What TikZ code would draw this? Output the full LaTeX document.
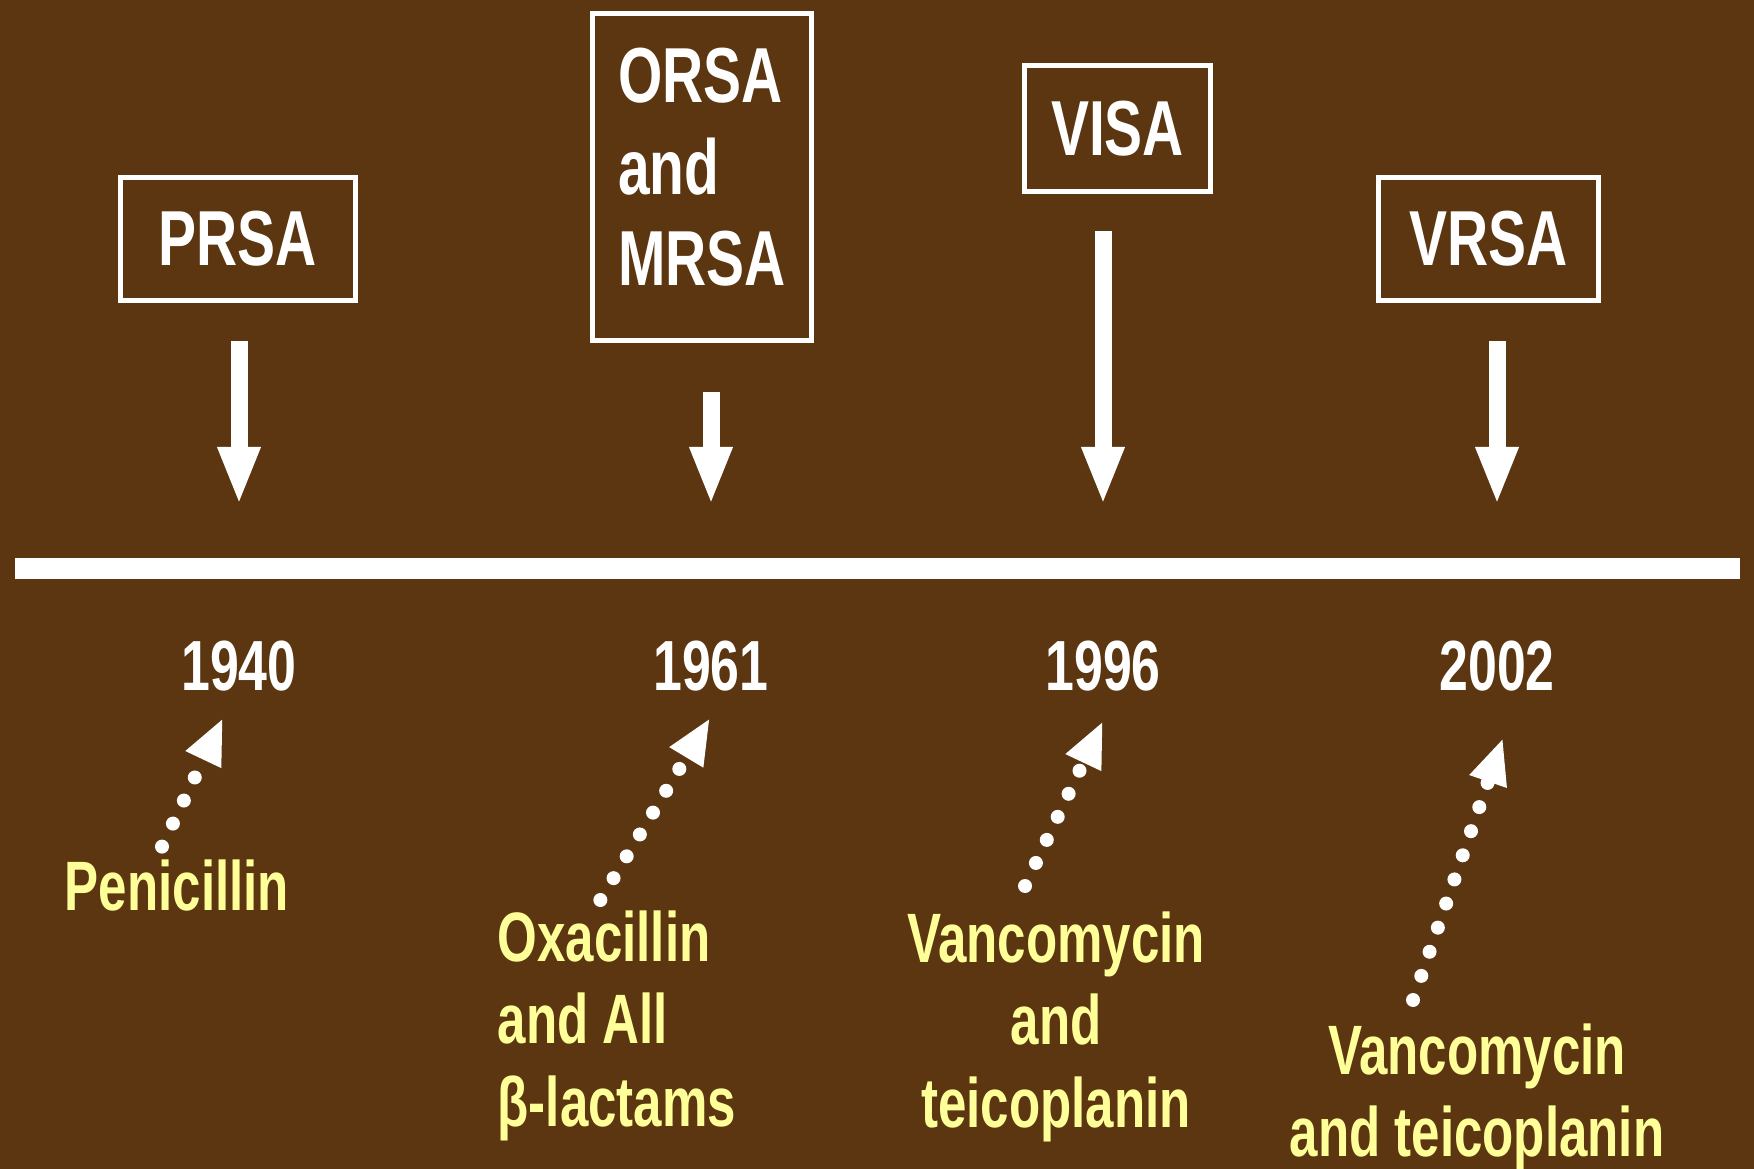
\documentclass[tikz,border=0pt]{standalone}
\usepackage{fontspec}
\newfontfamily\narrowsans{Liberation Sans}[FakeStretch=0.73]
\usetikzlibrary{arrows.meta}
\definecolor{bgbrown}{RGB}{92,54,16}
\definecolor{labelyellow}{RGB}{255,255,153}
\tikzset{
  resbox/.style={draw=white, line width=0.5mm, inner sep=0pt, text=white, align=left,
    font=\narrowsans\bfseries\fontsize{22.2}{26.1}\selectfont},
  yeartext/.style={inner sep=0pt, text=white, font=\narrowsans\bfseries\fontsize{20.2}{24}\selectfont},
  drugtext/.style={inner sep=0pt, text=labelyellow, font=\narrowsans\bfseries\fontsize{19.9}{23.5}\selectfont},
  downarrow/.style={white, line width=1.7mm, -{Triangle[length=5.8mm,width=3.9mm]}},
  dotarrow/.style={white, line width=1.4mm, line cap=round, dash pattern=on 0pt off 2.55mm,
    -{Triangle[length=4.6mm,width=3.6mm]}}
}
\begin{document}
\begin{tikzpicture}[x=0.1mm,y=-0.1mm]
    \useasboundingbox (0,0) rectangle (1754,1169);
    \fill[bgbrown] (0,0) rectangle (1754,1169);
    \fill[white] (15,558) rectangle (1740,579);
    \node[resbox, minimum width=23.5mm, minimum height=12.3mm] (prsa) at (238,239) {PRSA};
    \node[resbox, minimum width=21.9mm, minimum height=32.7mm] (orsa) at (702,177) {ORSA\\and\\MRSA\rule[-2mm]{0pt}{2mm}};
    \node[resbox, minimum width=18.6mm, minimum height=12.6mm] (visa) at (1117.5,128.5) {VISA};
    \node[resbox, minimum width=22mm, minimum height=12.3mm] (vrsa) at (1488.5,239) {VRSA};
    \foreach \yr/\xx/\b/\gap/\dx/\dy in {1940/239/prsa/3.85/223/718, 1961/711/orsa/4.95/710/718,
        1996/1103/visa/3.75/1103/721, 2002/1497/vrsa/3.85/1503/738} {
    \node[yeartext] (y\yr) at (\xx,666) {\yr};
    \coordinate (a\yr) at (\xx,505);
    \coordinate (d\yr) at (\dx,\dy);
    \draw[downarrow, shorten <=\gap mm] (\b.south -| a\yr) -- (a\yr);
    }
    \node[drugtext, anchor=base] (pen) at (177,910) {Penicillin};
    \node[drugtext, anchor=north west, align=left] (oxa) at (497,910) {Oxacillin\\and All\\β-lactams};
    \node[drugtext, anchor=north, align=center] (van1) at (1056,911) {Vancomycin\\and\\teicoplanin};
    \node[drugtext, anchor=north, align=center] (van2) at (1477,1023) {Vancomycin\\and teicoplanin};
    \draw[dotarrow] ([xshift=-1.5mm,yshift=1.2mm]pen.north) -- (d1940);
    \draw[dotarrow] ([xshift=-1.65mm,yshift=1mm]oxa.north) -- (d1961);
    \draw[dotarrow] ([xshift=-3.1mm,yshift=2.5mm]van1.north) -- (d1996);
    \draw[dotarrow] ([xshift=-6.4mm,yshift=2.3mm]van2.north) -- (d2002);
\end{tikzpicture}
\end{document}
